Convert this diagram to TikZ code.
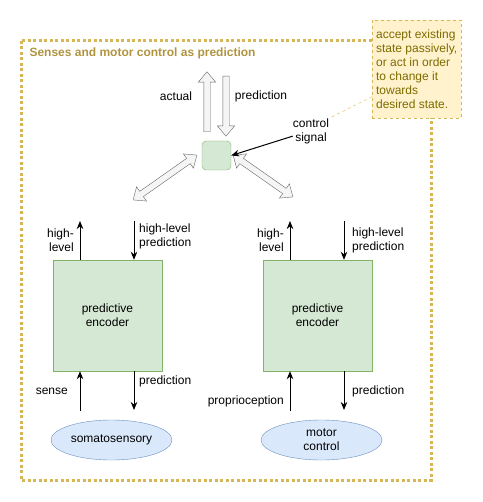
\documentclass[tikz,border=0pt]{standalone}
\usepackage{fontspec}
\setmainfont{Liberation Sans}
\usetikzlibrary{shapes.geometric, shapes.arrows, arrows.meta, calc}

\definecolor{framecol}{HTML}{D6B656}
\definecolor{titlecol}{RGB}{176,148,64}
\definecolor{notefill}{HTML}{FFF2CC}
\definecolor{notetext}{RGB}{125,108,0}
\definecolor{encfill}{HTML}{D5E8D4}
\definecolor{encline}{HTML}{82B366}
\definecolor{senfill}{HTML}{DAE8FC}
\definecolor{senline}{HTML}{6C8EBF}
\definecolor{flexfill}{HTML}{F5F5F5}
\definecolor{flexline}{HTML}{666666}

\begin{document}
\begin{tikzpicture}[x=1pt, y=-1pt, every node/.style={font=\fontsize{12}{14}\selectfont}]
  \tikzstyle{frame} = [framecol, line width=3pt, dash pattern=on 3pt off 2.5pt]
  \tikzstyle{note} = [draw=framecol, fill=notefill, dash pattern=on 3pt off 3pt, text=notetext, align=left, minimum width=89pt, minimum height=98pt, inner sep=2pt]
  \tikzstyle{ctrlbox} = [draw=encline, fill=encfill, rounded corners=4pt, minimum size=29pt, inner sep=0pt]
  \tikzstyle{encbox} = [draw=encline, fill=encfill, minimum width=109pt, minimum height=111pt, align=center]
  \tikzstyle{sensor} = [draw=senline, fill=senfill, ellipse, minimum width=121pt, minimum height=40pt, inner sep=0pt, align=center]
  \tikzstyle{flexarrow} = [single arrow, draw=flexline, fill=flexfill, minimum height=60pt, inner xsep=0pt, inner ysep=3pt, single arrow head extend=5.5pt, single arrow tip angle=80]
  \tikzstyle{flexdouble} = [double arrow, draw=flexline, fill=flexfill, inner xsep=0pt, inner ysep=3pt, double arrow head extend=5.5pt, double arrow tip angle=80]
  \tikzstyle{lbl} = [inner sep=0pt, align=center]
  \tikzstyle{sig} = [->, >={Stealth[length=8pt, width=6.5pt, inset=2.5pt]}, line width=1pt]

  \useasboundingbox (0,0) rectangle (482,502);

  % container
  \draw[frame] (21,41) rectangle (431,480);
  \node[anchor=west, text=titlecol, font=\fontsize{12}{14}\selectfont\bfseries] (title) at (26,53) {Senses and motor control as prediction};
  \node[note, anchor=north west] (note) at (372,20) {accept existing\\state passively,\\or act in order\\to change it\\towards\\desired state.};

  % control
  \node[ctrlbox] (ctrl) at (216.5,155.5) {};
  \node[flexarrow, rotate=90, anchor=tail] (actual) at (207,132) {};
  \node[flexarrow, rotate=-90, anchor=tail] (predict) at (226,76) {};
  \node[lbl] (actlbl) at (176,96) {actual};
  \node[lbl] (predlbl) at (261,96) {prediction};
  \node[flexdouble, rotate=35.1, minimum height=78pt] (tosoma) at (165,177.5) {};
  \node[flexdouble, rotate=-35, minimum height=73pt] (tomotor) at (263,176) {};
  \node[lbl] (ctrllbl) at (311,131) {control\\signal};
  \draw[sig] ($(ctrllbl.west)!.4!(ctrllbl.south west)$) -- (ctrl.east);
  \draw[framecol, dashed] ($(note.south west)!.22!(note.north west)$) -- (ctrllbl.north east);

  % encoders
  \node[encbox] (enc1) at (107.5,315.5) {predictive\\encoder};
  \node[encbox] (enc2) at (317.5,315.5) {predictive\\encoder};
  \node[sensor] (soma) at (111.5,440) {somatosensory};
  \node[sensor] (motor) at (321.5,440) {motor\\control};

  \coordinate (up1) at (80,221);
  \coordinate (down1) at (134,221);
  \coordinate (sense1) at (80,411);
  \coordinate (pred1) at (134,410);
  \draw[sig] (enc1.north -| up1) -- (up1);
  \draw[sig] (down1) -- (down1 |- enc1.north);
  \draw[sig] (sense1) -- (sense1 |- enc1.south);
  \draw[sig] (pred1 |- enc1.south) -- (pred1);

  \coordinate (up2) at (290,221);
  \coordinate (down2) at (344,221);
  \coordinate (sense2) at (290,411);
  \coordinate (pred2) at (344,410);
  \draw[sig] (enc2.north -| up2) -- (up2);
  \draw[sig] (down2) -- (down2 |- enc2.north);
  \draw[sig] (sense2) -- (sense2 |- enc2.south);
  \draw[sig] (pred2 |- enc2.south) -- (pred2);

  \node[lbl, align=right, anchor=east] (hi1) at (74,240) {high-\\level};
  \node[lbl, align=left, anchor=west] (hipred1) at (139,236) {high-level\\prediction};
  \node[lbl, anchor=east] (senselbl) at (68,391) {sense};
  \node[lbl, anchor=west] (predlbl1) at (139,381) {prediction};
  \node[lbl, align=right, anchor=east] (hi2) at (284,240) {high-\\level};
  \node[lbl, align=left, anchor=west] (hipred2) at (352,240.5) {high-level\\prediction};
  \node[lbl, anchor=east] (proplbl) at (284,401) {proprioception};
  \node[lbl, anchor=west] (predlbl2) at (352,391) {prediction};
\end{tikzpicture}
\end{document}
